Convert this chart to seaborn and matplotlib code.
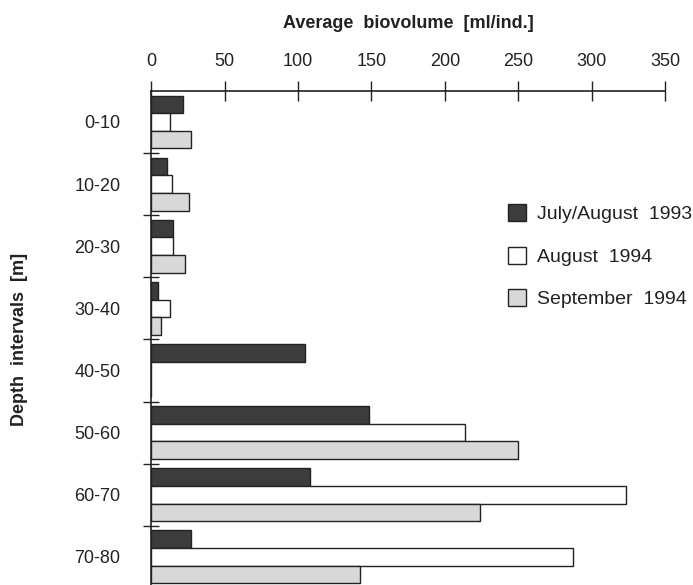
import numpy as np
import pandas as pd
import matplotlib
matplotlib.use("Agg")
import matplotlib.pyplot as plt
import seaborn as sns
from matplotlib.ticker import FixedLocator

depths = ["0-10", "10-20", "20-30", "30-40", "40-50", "50-60", "60-70", "70-80"]
july_aug_1993 = [22, 11, 15, 5, 105, 148, 108, 27]
aug_1994 = [13, 14, 15, 13, 0, 214, 323, 287]
sep_1994 = [27, 26, 23, 7, 0, 250, 224, 142]
series = ["July/August  1993", "August  1994", "September  1994"]
xticks = [0, 50, 100, 150, 200, 250, 300, 350]

sns.set_theme(style="white")
plt.rcParams["font.family"] = ["Liberation Sans", "DejaVu Sans"]

df = pd.DataFrame({
    "Depth": depths * 3,
    "Value": july_aug_1993 + aug_1994 + sep_1994,
    "Series": [s for s in series for _ in depths],
})

fig = plt.figure(figsize=(6.93, 5.85), dpi=100)
ax = fig.add_axes([0.218, -0.005, 0.742, 0.8496])
sns.barplot(data=df, y="Depth", x="Value", hue="Series", orient="h",
            hue_order=series, order=depths,
            palette=["#3c3c3c", "#ffffff", "#d8d8d8"], width=0.85,
            edgecolor="#222222", linewidth=1.0, ax=ax, errorbar=None)

ax.set_xlim(0, 350)
ax.set_ylim(7.5, -0.5)
ax.xaxis.tick_top()
ax.xaxis.set_label_position("top")
ax.set_xticks(xticks)
ax.set_xticklabels([str(t) for t in xticks])
ax.tick_params(axis="x", which="major", direction="inout", length=14, width=1.0,
               color="#222222", pad=8, labelsize=13, labelcolor="#222222",
               top=True, bottom=False)
ax.tick_params(axis="y", which="major", length=0, pad=22, labelsize=13,
               labelcolor="#222222")
ax.yaxis.set_minor_locator(FixedLocator([i + 0.5 for i in range(len(depths))]))
ax.tick_params(axis="y", which="minor", direction="inout", length=12, width=1.0,
               color="#222222", left=True)

for s in ["right", "bottom"]:
    ax.spines[s].set_visible(False)
for s in ["top", "left"]:
    ax.spines[s].set_color("#222222")
    ax.spines[s].set_linewidth(1.2)

ax.set_xlabel("Average  biovolume  [ml/ind.]", fontsize=13, fontweight="bold",
              color="#222222", labelpad=18)
ax.set_ylabel("Depth  intervals  [m]", fontsize=13, fontweight="bold",
              color="#222222")
ax.yaxis.set_label_coords(-0.24, 0.5)

ax.legend(loc="upper left", bbox_to_anchor=(0.66, 0.807), frameon=False,
          handlelength=0.95, handleheight=0.95, labelspacing=1.2,
          handletextpad=0.55, fontsize=14, labelcolor="#222222")

fig.savefig("out.png", dpi=100)
